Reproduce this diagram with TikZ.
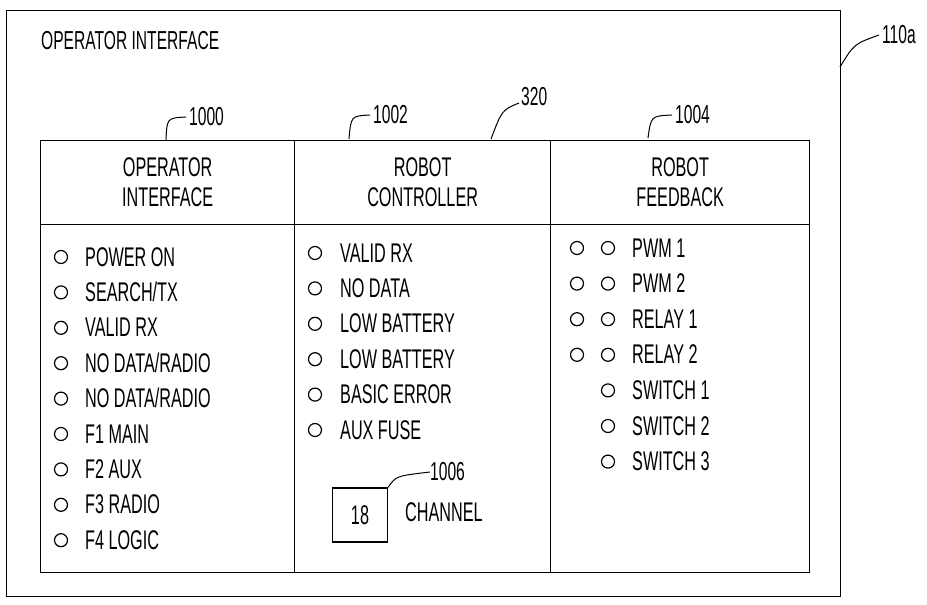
\documentclass[tikz,border=0pt]{standalone}
\usepackage{fontspec}
\setmainfont[FakeStretch=0.6]{Liberation Sans}
\usetikzlibrary{positioning}

\begin{document}
\begin{tikzpicture}[
  x=1pt, y=-1pt,
  every node/.style={font=\fontsize{27}{30}\selectfont, inner sep=0pt},
  cell/.style={draw, line width=1.3pt, anchor=north west, align=center},
  lamp/.style={circle, draw, line width=1.2pt, minimum size=13pt, inner sep=0pt},
  lbl/.style={anchor=base west},
  refnum/.style={font=\fontsize{26}{28}\selectfont, anchor=west},
  leader/.style={line width=1pt},
]
\useasboundingbox (0,0) rectangle (927,605);

% outer panel
\node[cell, minimum width=834pt, minimum height=586pt] (panel) at (6,10) {};
\node[lbl, font=\fontsize{26}{28}\selectfont] (title) at (41,49) {OPERATOR INTERFACE};

% table heads
\node[cell, minimum width=254pt, minimum height=84pt] (opHead) at (40,140) {OPERATOR\\INTERFACE};
\node[cell, minimum width=256pt, minimum height=84pt] (rcHead) at (294,140) {ROBOT\\CONTROLLER};
\node[cell, minimum width=259pt, minimum height=84pt] (fbHead) at (550,140) {ROBOT\\FEEDBACK};

% table bodies
\node[cell, minimum width=254pt, minimum height=348pt] (opBody) at (40,224) {};
\node[cell, minimum width=256pt, minimum height=348pt] (rcBody) at (294,224) {};
\node[cell, minimum width=259pt, minimum height=348pt] (fbBody) at (550,224) {};

% operator interface lamps
\foreach \txt [count=\i from 0] in {POWER ON, SEARCH/TX, VALID RX, NO DATA/RADIO,
    NO DATA/RADIO, F1 MAIN, F2 AUX, F3 RADIO, F4 LOGIC} {
  \node[lamp] (opLamp\i) at (61,257+35.4*\i) {};
  \node[lbl] (opTxt\i) at (85,266+35.4*\i) {\txt};
}

% robot controller lamps
\foreach \txt [count=\i from 0] in {VALID RX, NO DATA, LOW BATTERY, LOW BATTERY,
    BASIC ERROR, AUX FUSE} {
  \node[lamp] (rcLamp\i) at (315,253+35.4*\i) {};
  \node[lbl] (rcTxt\i) at (340,262+35.4*\i) {\txt};
}

% channel display
\node[draw, line width=1.1pt, minimum width=55pt, minimum height=54pt] (chanBox) at (360,515) {18};
\node[lbl] (chanTxt) at (405,521) {CHANNEL};
\node[refnum] (n1006) at (430,472) {1006};
\draw[leader] (chanBox.north east) .. controls (396,476) .. (n1006.west);

% robot feedback lamps
\foreach \txt [count=\i from 0] in {PWM 1, PWM 2, RELAY 1, RELAY 2} {
  \node[lamp] (fbLampA\i) at (577,248+35.6*\i) {};
}
\foreach \txt [count=\i from 0] in {PWM 1, PWM 2, RELAY 1, RELAY 2,
    SWITCH 1, SWITCH 2, SWITCH 3} {
  \node[lamp] (fbLampB\i) at (608,248+35.6*\i) {};
  \node[lbl] (fbTxt\i) at (632,257+35.6*\i) {\txt};
}

% reference numerals
\node[refnum] (n1000) at (189,117) {1000};
\node[refnum] (n1002) at (373,115) {1002};
\node[refnum] (n320) at (521,97) {320};
\node[refnum] (n1004) at (675,115) {1004};
\node[refnum] (n110a) at (882,35) {110a};

\coordinate (t1000) at (166,140);
\coordinate (t1002) at (349,139);
\coordinate (t320) at (491,139);
\coordinate (t1004) at (648,138);
\coordinate (t110a) at (840,67);

\draw[leader] (t1000) .. controls (167,118) .. ([xshift=-3pt]n1000.west);
\draw[leader] (t1002) .. controls (351,116) .. ([xshift=-3pt]n1002.west);
\draw[leader] (t320) .. controls (502,110) .. ([xshift=-2pt,yshift=-6pt]n320.west);
\draw[leader] (t1004) .. controls (651,116) .. ([xshift=-3pt]n1004.west);
\draw[leader] (t110a) .. controls (854,44) .. ([xshift=-3pt]n110a.west);
\end{tikzpicture}
\end{document}
